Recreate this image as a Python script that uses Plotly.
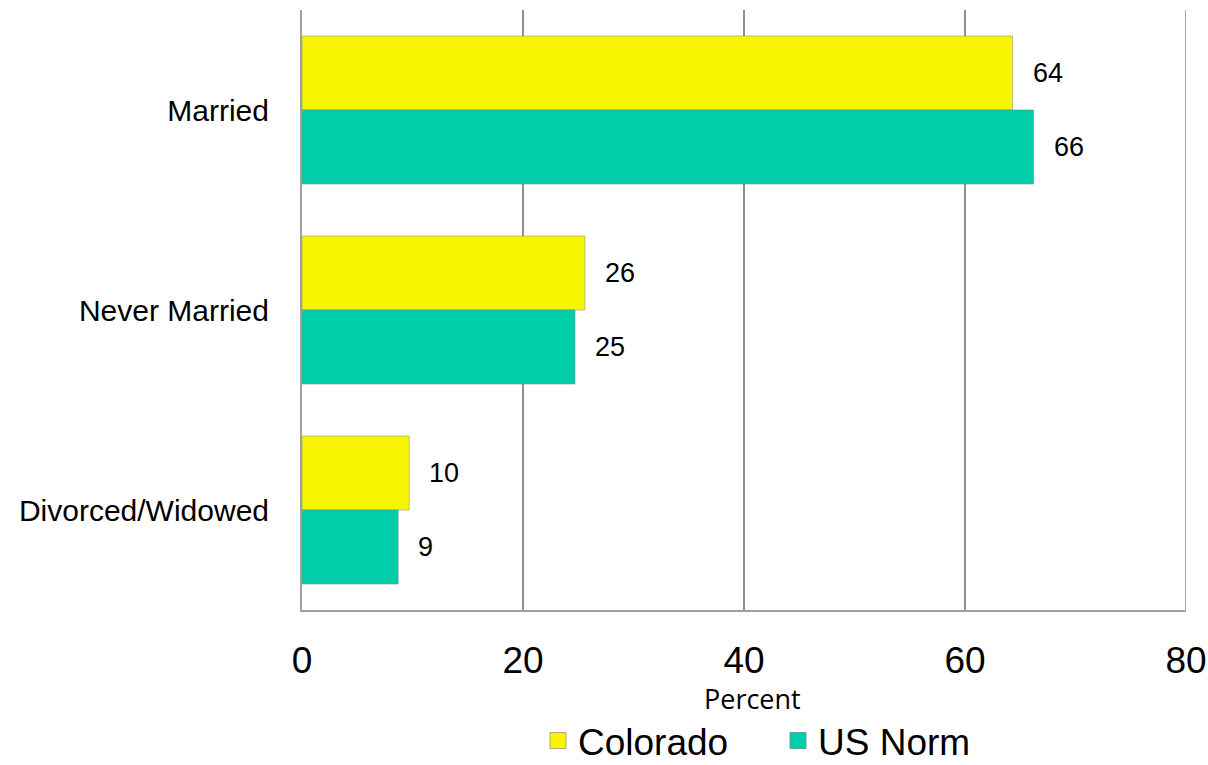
import plotly.graph_objects as go

categories = ["Married", "Never Married", "Divorced/Widowed"]
colorado = [64.3, 25.6, 9.7]
us_norm = [66.2, 24.7, 8.7]
x_ticks = [0, 20, 40, 60, 80]

FONT = "Liberation Sans, Arial, sans-serif"
YELLOW = "#F8F500"
TEAL = "#00CDA9"

fig = go.Figure()
fig.add_trace(go.Bar(
    y=categories, x=colorado, orientation="h", name="Colorado", showlegend=False,
    marker=dict(color=YELLOW, line=dict(color="rgba(150,150,120,0.6)", width=1)),
))
fig.add_trace(go.Bar(
    y=categories, x=us_norm, orientation="h", name="US Norm", showlegend=False,
    marker=dict(color=TEAL, line=dict(color="rgba(90,150,140,0.6)", width=1)),
))
# legend entries with larger square swatches
for name, col, lc in (("Colorado", YELLOW, "rgba(150,150,120,0.8)"),
                      ("US Norm", TEAL, "rgba(90,150,140,0.8)")):
    fig.add_trace(go.Scatter(
        x=[None], y=[None], mode="markers", name=name, showlegend=True,
        marker=dict(symbol="square", size=22, color=col, line=dict(color=lc, width=1)),
    ))

for series, offset in ((colorado, -0.185), (us_norm, 0.185)):
    for i, (cat, v) in enumerate(zip(categories, series)):
        fig.add_annotation(
            x=v, y=i + offset, xref="x", yref="y", text=str(round(v)),
            showarrow=False, xanchor="left", xshift=18,
            font=dict(family=FONT, size=27, color="#000"),
        )

fig.add_annotation(
    x=0.51, y=-0.1483, xref="paper", yref="paper", text="Percent",
    showarrow=False, xanchor="center", yanchor="middle",
    font=dict(family="Open Sans", size=27, color="#000"),
)

fig.update_layout(
    width=1208, height=765,
    margin=dict(l=302, r=22, t=10, b=155, autoexpand=False),
    barmode="group", bargap=0.26, bargroupgap=0,
    plot_bgcolor="white", paper_bgcolor="white",
    font=dict(family=FONT, color="#000"),
    showlegend=True,
    legend=dict(orientation="h", x=0.267, xanchor="left", y=-0.2183, yanchor="middle",
                font=dict(size=37, family=FONT),
                itemwidth=30, entrywidth=195, traceorder="normal"),
    xaxis=dict(
        range=[0, 80], tickvals=x_ticks, ticktext=[str(t) for t in x_ticks],
        tickfont=dict(size=37), showgrid=True, gridcolor="#8E8E8E", gridwidth=1.5,
        showline=True, linecolor="#A0A0A0", linewidth=2, mirror=False,
        zeroline=False, ticks="", ticklabelstandoff=17, automargin=False,
        ticklabeloverflow="allow",
    ),
    yaxis=dict(
        categoryorder="array", categoryarray=categories, autorange="reversed",
        tickfont=dict(size=30), showgrid=False,
        showline=True, linecolor="#A0A0A0", linewidth=2,
        ticks="", ticklabelstandoff=25, automargin=False,
    ),
)
fig.add_shape(type="line", xref="x", yref="paper", x0=80, x1=80, y0=0, y1=1,
              line=dict(color="#8E8E8E", width=1.5))

fig.write_html(
    "out.html",
    config={"displayModeBar": False},
    post_script="document.body.style.margin='0';document.body.style.overflow='hidden';",
)
